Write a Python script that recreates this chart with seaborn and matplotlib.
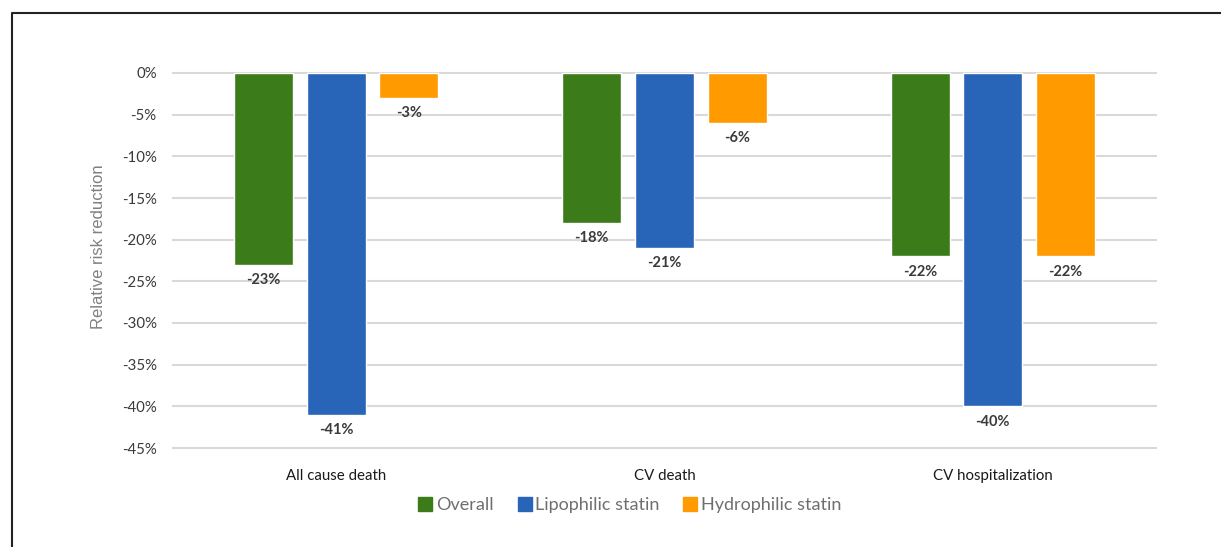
import matplotlib
matplotlib.use("Agg")
import matplotlib.pyplot as plt
import matplotlib.lines as mlines
import seaborn as sns
import pandas as pd

# Relative risk reduction (%) by outcome and statin type
outcomes = ["All cause death", "CV death", "CV hospitalization"]
groups = ["Overall", "Lipophilic statin", "Hydrophilic statin"]
overall = [-23, -18, -22]
lipophilic = [-41, -21, -40]
hydrophilic = [-3, -6, -22]
y_ticks = [0, -5, -10, -15, -20, -25, -30, -35, -40, -45]

colors = ["#3B7B1A", "#2864B8", "#FF9A00"]

rows = []
for g, vals in zip(groups, [overall, lipophilic, hydrophilic]):
    for o, v in zip(outcomes, vals):
        rows.append({"Outcome": o, "Group": g, "RRR": v})
df = pd.DataFrame(rows)

sns.set_theme(style="white")
plt.rcParams["font.family"] = ["Lato", "DejaVu Sans"]

fig = plt.figure(figsize=(12.21, 5.47), dpi=100)
W, H = 1221, 547
ppu = 375 / 45.0
top_px = 73 - 0.5 * ppu
bot_px = 448 + 0.5 * ppu
ax = fig.add_axes([172 / W, 1 - bot_px / H, (1157 - 172) / W, (bot_px - top_px) / H])

sns.barplot(data=df, x="Outcome", y="RRR", hue="Group", order=outcomes,
            hue_order=groups, palette=colors, width=0.665, gap=0.19,
            saturation=1, errorbar=None, ax=ax, legend=False)

ax.set_xlim(-0.5, 2.5)
ax.set_ylim(-45.5, 0.5)
ax.set_yticks(y_ticks)
ax.set_yticklabels([f"{t}%" for t in y_ticks], color="#3a3a3a", fontsize=10.8)
ax.yaxis.grid(True, color="#D9D9D9", linewidth=1.5)
ax.set_axisbelow(True)
for s in ax.spines.values():
    s.set_visible(False)
ax.tick_params(axis="both", length=0)
ax.tick_params(axis="y", pad=11)
ax.tick_params(axis="x", pad=12)
for lbl in ax.get_xticklabels():
    lbl.set_fontsize(10.8)
    lbl.set_color("#1a1a1a")
ax.set_xlabel("")
ax.set_ylabel("Relative risk reduction", color="#808080", fontsize=12,
              family="Liberation Sans")
ax.yaxis.set_label_coords(-0.067, 0.535)

for cont in ax.containers:
    ax.bar_label(cont, labels=[f"{int(round(v))}%" for v in cont.datavalues],
                 padding=6, fontsize=10.5, fontweight="bold", color="#3a3a3a")

handles = [mlines.Line2D([], [], marker="s", linestyle="none", markersize=10,
                         markerfacecolor=c, markeredgecolor=c) for c in colors]
fig.legend(handles, groups, loc="center", bbox_to_anchor=(629 / W, 1 - 505 / H),
           ncol=3, frameon=False, fontsize=13, labelcolor="#6f6f6f",
           handletextpad=0.1, columnspacing=1.2, handlelength=1.0)

# Frame lines along the top and left of the figure
x0 = 12 / W
y0 = 1 - 13 / H
fig.add_artist(mlines.Line2D([x0, x0, 1], [0, y0, y0], transform=fig.transFigure,
                             color="#222222", linewidth=1.5))

fig.savefig("out.png", dpi=100, facecolor="white")
